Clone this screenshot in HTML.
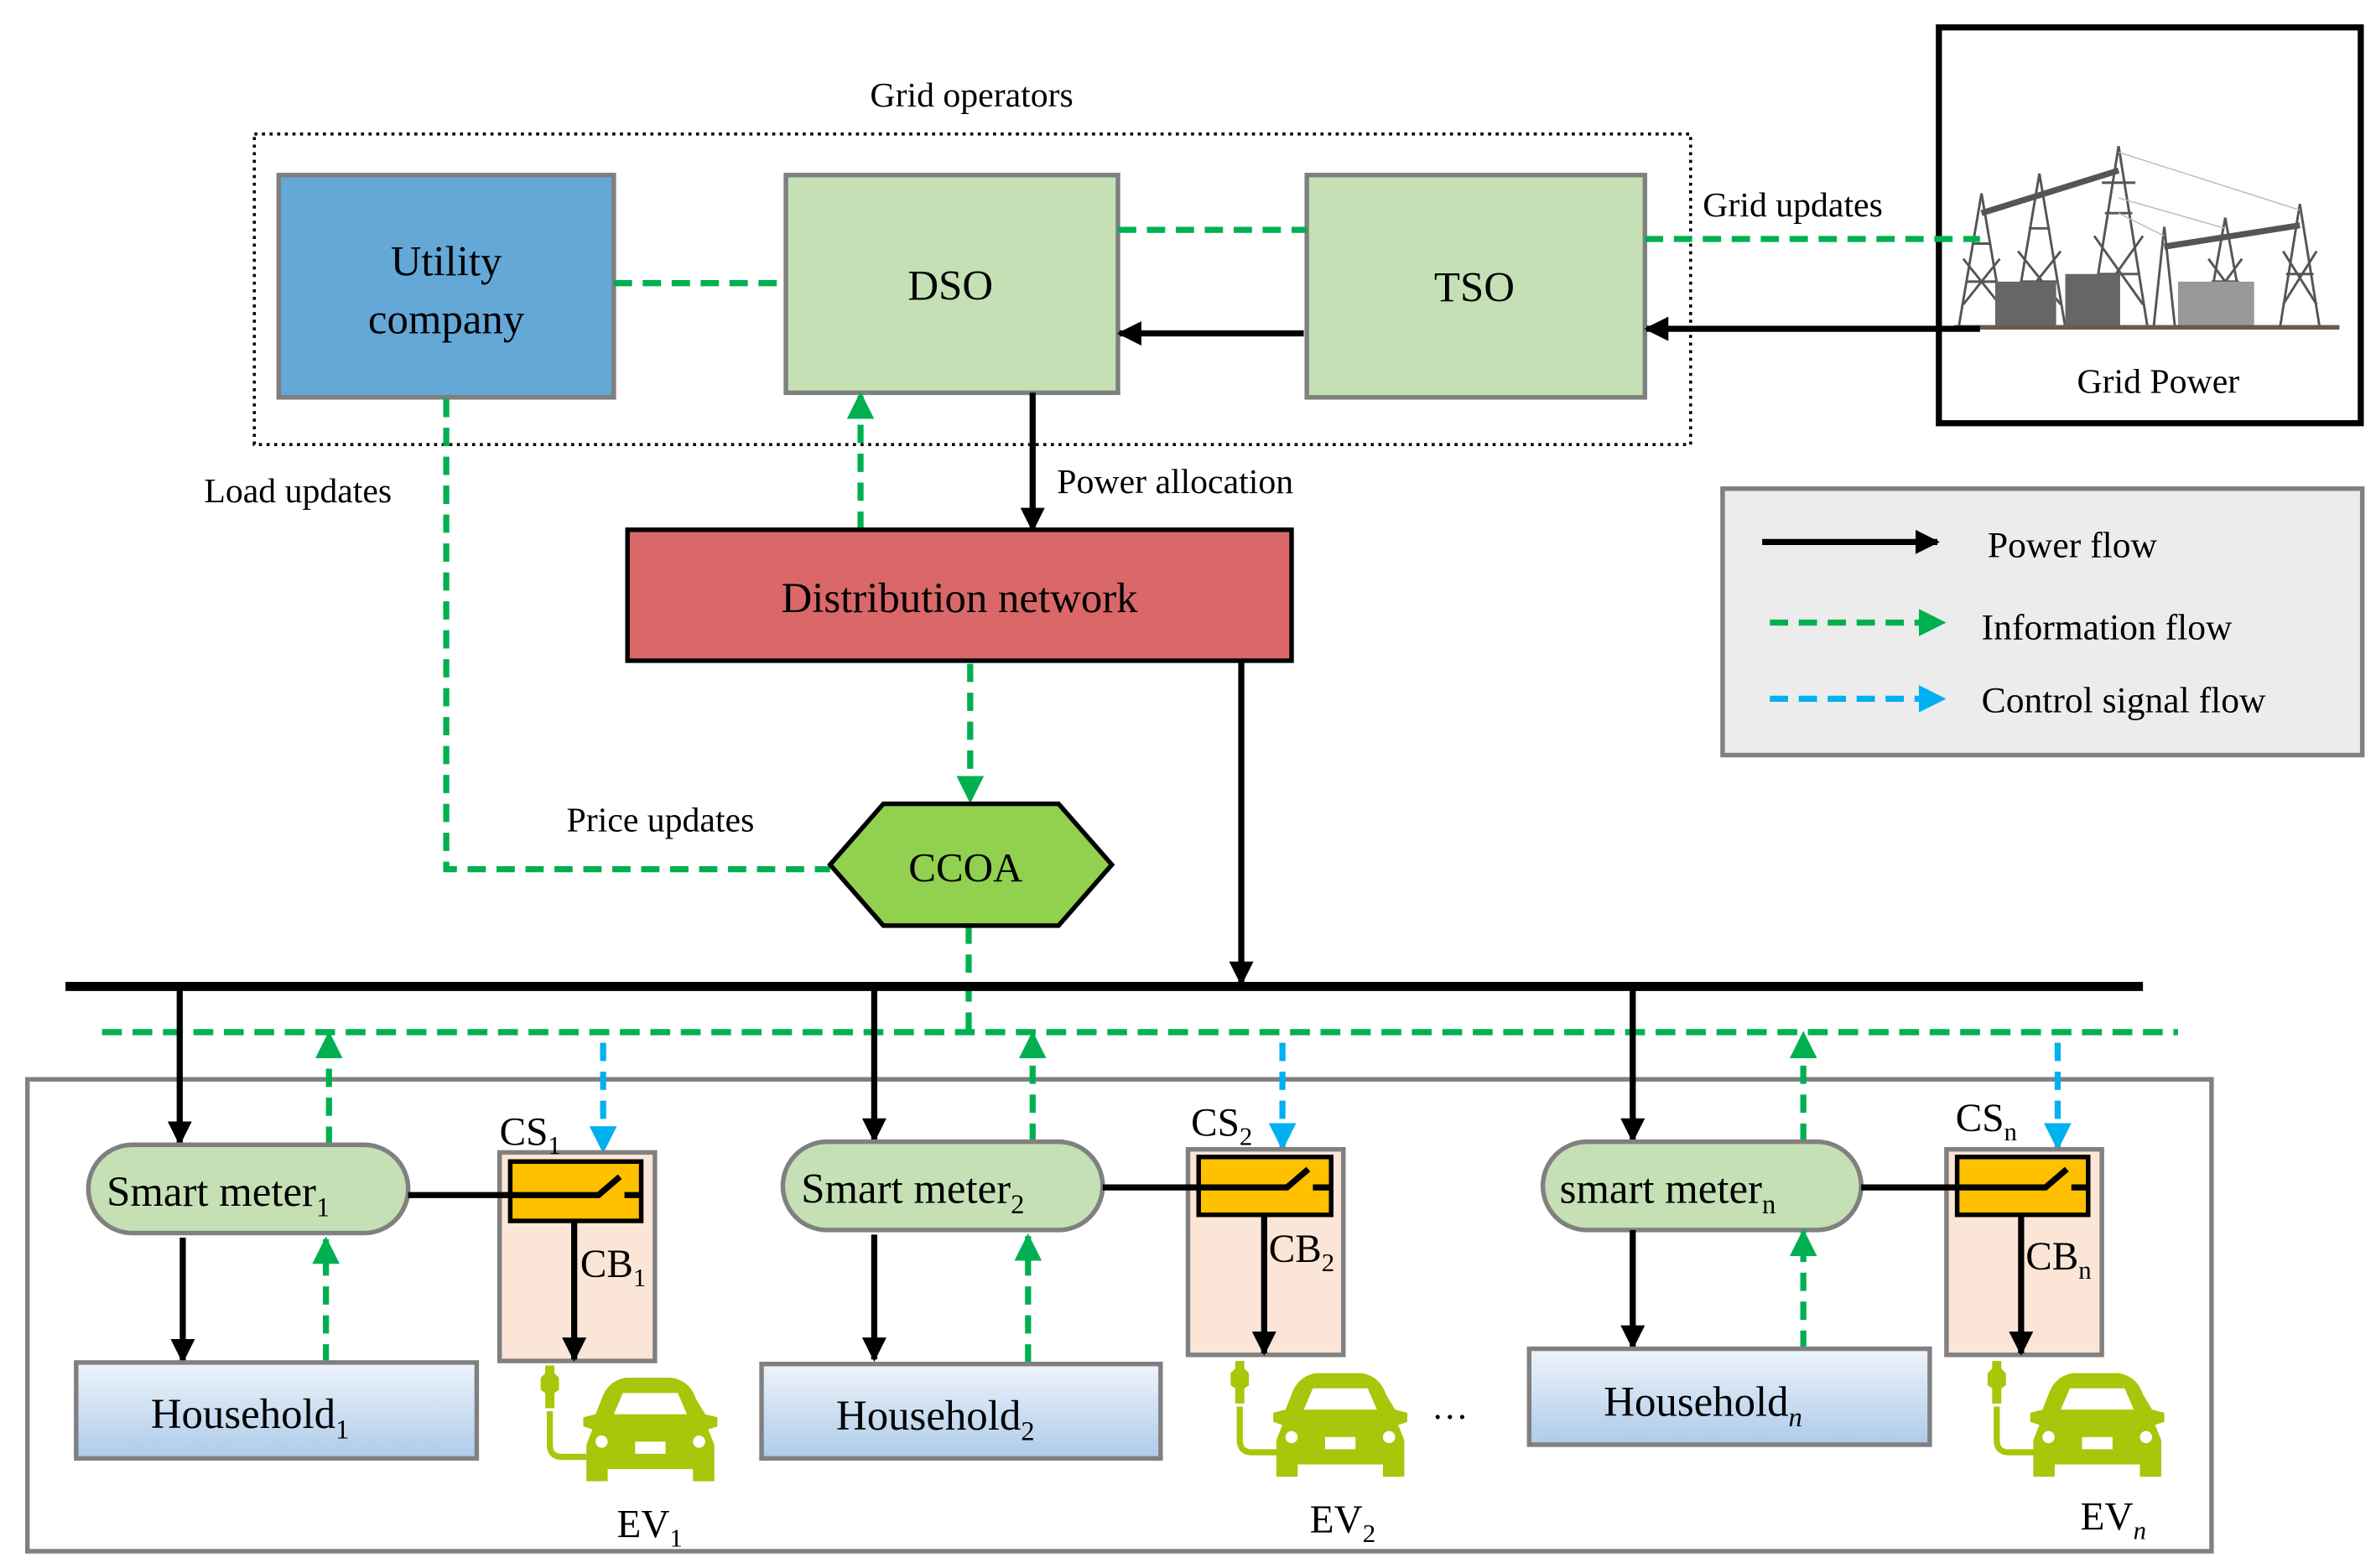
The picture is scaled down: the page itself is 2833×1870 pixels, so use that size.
<!DOCTYPE html>
<html><head><meta charset="utf-8"><style>
html,body{margin:0;padding:0;background:#fff;}
svg{display:block;}
text{font-family:"Liberation Serif",serif;fill:#000;}
</style></head><body>
<svg xmlns="http://www.w3.org/2000/svg" width="2833" height="1870" viewBox="0 0 1560 1030" preserveAspectRatio="none">
<defs>
<marker id="ab" viewBox="0 0 10 10" refX="9" refY="5" markerWidth="4" markerHeight="4" orient="auto" markerUnits="strokeWidth"><path d="M0,0L10,5L0,10z" fill="#000"/></marker>
<marker id="ag" viewBox="0 0 10 10" refX="9" refY="5" markerWidth="4.5" markerHeight="4.5" orient="auto" markerUnits="strokeWidth"><path d="M0,0L10,5L0,10z" fill="#00b050"/></marker>
<marker id="ac" viewBox="0 0 10 10" refX="9" refY="5" markerWidth="4.5" markerHeight="4.5" orient="auto" markerUnits="strokeWidth"><path d="M0,0L10,5L0,10z" fill="#00b0f0"/></marker>
<linearGradient id="hh" x1="0" y1="0" x2="0" y2="1"><stop offset="0" stop-color="#eef4fb"/><stop offset="1" stop-color="#adcbe9"/></linearGradient>
<g id="car">
<path d="M3,28 l0,-10 l-3,-2 l0,-8 l3,-3 l0,-5 l6,0 l0,5 l3,3 l0,8 l-3,2 l0,10 z" fill="#a8c60a"/>
<path d="M6,30 L6,52 Q6,60 14,60 L32,60" fill="none" stroke="#a8c60a" stroke-width="4"/>
<path d="M40,22 Q44,10 56,8 L86,8 Q98,10 102,22 L108,32 L116,34 L116,40 L110,42 L114,52 L114,76 L100,76 L100,68 L44,68 L44,76 L30,76 L30,52 L34,42 L28,40 L28,34 L36,32 Z" fill="#a8c60a"/>
<path d="M48,32 L54,18 L90,18 L96,32 Z" fill="#fff"/>
<circle cx="40" cy="50" r="4" fill="#fff"/><circle cx="104" cy="50" r="4" fill="#fff"/>
<rect x="62" y="50" width="20" height="8" fill="#fff"/>
</g>
</defs>

<!-- Grid operators -->
<text x="638" y="70" font-size="23" text-anchor="middle">Grid operators</text>
<rect x="167" y="88" width="943" height="204" fill="none" stroke="#000" stroke-width="2" stroke-dasharray="2,3"/>

<rect x="183" y="115" width="220" height="146" fill="#64a8d8" stroke="#7f7f7f" stroke-width="3"/>
<text x="293" y="181" font-size="28" text-anchor="middle">Utility</text>
<text x="293" y="219" font-size="28" text-anchor="middle">company</text>

<rect x="516" y="115" width="218" height="143" fill="#c5e0b4" stroke="#7f7f7f" stroke-width="3"/>
<text x="624" y="197" font-size="28" text-anchor="middle">DSO</text>
<rect x="858" y="115" width="222" height="146" fill="#c5e0b4" stroke="#7f7f7f" stroke-width="3"/>
<text x="968" y="198" font-size="28" text-anchor="middle">TSO</text>

<!-- Grid power -->
<rect x="1273" y="18" width="277" height="260" fill="#fff" stroke="#000" stroke-width="4"/>
<g stroke="#555" fill="none" stroke-width="1.6">
<path d="M1286,215 L1301,127 L1316,215 M1291,185 L1311,185 M1295,160 L1307,160 M1289,200 L1313,170 M1313,200 L1289,170"/>
<path d="M1322,215 L1339,114 L1356,215 M1327,185 L1351,185 M1332,150 L1346,150 M1325,200 L1353,165 M1353,200 L1325,165"/>
<path d="M1372,215 L1391,96 L1410,215 M1377,180 L1405,180 M1382,140 L1400,140 M1375,200 L1407,155 M1407,200 L1375,155 M1380,120 L1402,120"/>
<path d="M1414,215 L1421,149 L1428,215"/>
<path d="M1448,215 L1461,143 L1474,215 M1452,185 L1470,185 M1450,200 L1472,170 M1472,200 L1450,170"/>
<path d="M1497,215 L1510,134 L1523,215 M1501,180 L1519,180 M1499,200 L1521,165 M1521,200 L1499,165"/>
</g>
<g stroke="#555" stroke-width="4" fill="none">
<path d="M1301,140 L1391,112"/><path d="M1421,162 L1510,148"/>
</g>
<g stroke="#bbb" stroke-width="0.8" fill="none"><path d="M1391,100 L1510,138 M1391,130 L1461,150 M1391,140 L1421,155"/></g>
<g fill="#666"><rect x="1310" y="185" width="40" height="30"/><rect x="1356" y="180" width="36" height="35"/><rect x="1430" y="185" width="50" height="30" fill="#999"/></g>
<line x1="1283" y1="215" x2="1536" y2="215" stroke="#6b5a4a" stroke-width="3"/>
<text x="1417" y="258" font-size="23" text-anchor="middle">Grid Power</text>
<text x="1118" y="142" font-size="23">Grid  updates</text>

<!-- top info lines -->
<g stroke="#00b050" stroke-width="4" stroke-dasharray="12,7" fill="none">
<line x1="403" y1="186" x2="516" y2="186"/>
<line x1="734" y1="151" x2="858" y2="151"/>
<line x1="1080" y1="157" x2="1300" y2="157"/>
</g>
<!-- black power arrows -->
<g stroke="#000" stroke-width="4" fill="none" marker-end="url(#ab)">
<line x1="856" y1="219" x2="735" y2="219"/>
<line x1="1300" y1="216" x2="1081" y2="216"/>
<line x1="678" y1="258" x2="678" y2="348"/>
<line x1="815" y1="434" x2="815" y2="646"/>
</g>
<text x="694" y="324" font-size="23">Power allocation</text>
<line x1="565" y1="348" x2="565" y2="259" stroke="#00b050" stroke-width="4" stroke-dasharray="12,7" marker-end="url(#ag)"/>

<rect x="412" y="348" width="436" height="86" fill="#da6868" stroke="#000" stroke-width="3"/>
<text x="630" y="402" font-size="28" text-anchor="middle">Distribution network</text>

<text x="134" y="330" font-size="23">Load updates</text>
<path d="M293,262 L293,571 L545,571" stroke="#00b050" stroke-width="4" stroke-dasharray="12,7" fill="none"/>
<line x1="637" y1="436" x2="637" y2="526" stroke="#00b050" stroke-width="4" stroke-dasharray="12,7" marker-end="url(#ag)"/>
<line x1="636" y1="608" x2="636" y2="678" stroke="#00b050" stroke-width="4" stroke-dasharray="12,7"/>

<polygon points="545,568 580,528 695,528 730,568 695,608 580,608" fill="#92d050" stroke="#000" stroke-width="3"/>
<text x="634" y="579" font-size="27" text-anchor="middle">CCOA</text>
<text x="372" y="546" font-size="23">Price  updates</text>

<!-- bus -->
<line x1="43" y1="648" x2="1407" y2="648" stroke="#000" stroke-width="6"/>
<line x1="67" y1="678" x2="1430" y2="678" stroke="#00b050" stroke-width="4" stroke-dasharray="13,7"/>

<rect x="18" y="709" width="1434" height="310" fill="none" stroke="#808080" stroke-width="3"/>

<!-- legend -->
<rect x="1131" y="321" width="420" height="175" fill="#ececec" stroke="#808080" stroke-width="3"/>
<line x1="1157" y1="356" x2="1272" y2="356" stroke="#000" stroke-width="4" marker-end="url(#ab)"/>
<line x1="1162" y1="409" x2="1276" y2="409" stroke="#00b050" stroke-width="4" stroke-dasharray="12,7" marker-end="url(#ag)"/>
<line x1="1162" y1="459" x2="1276" y2="459" stroke="#00b0f0" stroke-width="4" stroke-dasharray="12,7" marker-end="url(#ac)"/>
<text x="1305" y="366" font-size="24">Power flow</text>
<text x="1301" y="420" font-size="24">Information flow</text>
<text x="1301" y="468" font-size="24">Control signal flow</text>

<!-- group 1 -->
<g>
<line x1="118" y1="648" x2="118" y2="751" stroke="#000" stroke-width="4" marker-end="url(#ab)"/>
<line x1="216" y1="752" x2="216" y2="679" stroke="#00b050" stroke-width="4" stroke-dasharray="12,7" marker-end="url(#ag)"/>
<line x1="396" y1="685" x2="396" y2="756" stroke="#00b0f0" stroke-width="4" stroke-dasharray="12,7" marker-end="url(#ac)"/>
<rect x="58" y="752" width="210" height="58" rx="29" fill="#c5e0b4" stroke="#808080" stroke-width="3"/>
<text x="70" y="792" font-size="28">Smart meter<tspan font-size="18" dy="7">1</tspan></text>
<rect x="328" y="757" width="102" height="137" fill="#fbe5d6" stroke="#808080" stroke-width="3"/>
<rect x="335" y="763" width="86" height="39" fill="#ffc000" stroke="#000" stroke-width="3"/>
<path d="M268,785 L393,785 L407,773 M410,785 L421,785" stroke="#000" stroke-width="4" fill="none"/>
<text x="328" y="752" font-size="26">CS<tspan font-size="17" dy="6">1</tspan></text>
<line x1="377" y1="802" x2="377" y2="893" stroke="#000" stroke-width="4" marker-end="url(#ab)"/>
<text x="381" y="839" font-size="26">CB<tspan font-size="17" dy="6">1</tspan></text>
<line x1="120" y1="813" x2="120" y2="894" stroke="#000" stroke-width="4" marker-end="url(#ab)"/>
<line x1="214" y1="895" x2="214" y2="814" stroke="#00b050" stroke-width="4" stroke-dasharray="12,7" marker-end="url(#ag)"/>
<rect x="50" y="895" width="263" height="63" fill="url(#hh)" stroke="#808080" stroke-width="3"/>
<text x="99" y="938" font-size="28">Household<tspan font-size="18" dy="7">1</tspan></text>
<use href="#car" x="355" y="897"/>
<text x="405" y="1010" font-size="26">EV<tspan font-size="17" dy="6">1</tspan></text>
</g>

<!-- group 2 -->
<g>
<line x1="574" y1="648" x2="574" y2="749" stroke="#000" stroke-width="4" marker-end="url(#ab)"/>
<line x1="678" y1="750" x2="678" y2="679" stroke="#00b050" stroke-width="4" stroke-dasharray="12,7" marker-end="url(#ag)"/>
<line x1="842" y1="685" x2="842" y2="754" stroke="#00b0f0" stroke-width="4" stroke-dasharray="12,7" marker-end="url(#ac)"/>
<rect x="514" y="750" width="210" height="58" rx="29" fill="#c5e0b4" stroke="#808080" stroke-width="3"/>
<text x="526" y="790" font-size="28">Smart meter<tspan font-size="18" dy="7">2</tspan></text>
<rect x="780" y="755" width="102" height="135" fill="#fbe5d6" stroke="#808080" stroke-width="3"/>
<rect x="787" y="760" width="87" height="38" fill="#ffc000" stroke="#000" stroke-width="3"/>
<path d="M724,780 L845,780 L859,768 M862,780 L874,780" stroke="#000" stroke-width="4" fill="none"/>
<text x="782" y="746" font-size="26">CS<tspan font-size="17" dy="6">2</tspan></text>
<line x1="830" y1="798" x2="830" y2="889" stroke="#000" stroke-width="4" marker-end="url(#ab)"/>
<text x="833" y="829" font-size="26">CB<tspan font-size="17" dy="6">2</tspan></text>
<line x1="574" y1="811" x2="574" y2="893" stroke="#000" stroke-width="4" marker-end="url(#ab)"/>
<line x1="675" y1="895" x2="675" y2="812" stroke="#00b050" stroke-width="4" stroke-dasharray="12,7" marker-end="url(#ag)"/>
<rect x="500" y="896" width="262" height="62" fill="url(#hh)" stroke="#808080" stroke-width="3"/>
<text x="549" y="939" font-size="28">Household<tspan font-size="18" dy="7">2</tspan></text>
<use href="#car" x="808" y="894"/>
<text x="860" y="1007" font-size="26">EV<tspan font-size="17" dy="6">2</tspan></text>
<text x="940" y="932" font-size="24">…</text>
</g>

<!-- group n -->
<g>
<line x1="1072" y1="648" x2="1072" y2="749" stroke="#000" stroke-width="4" marker-end="url(#ab)"/>
<line x1="1184" y1="750" x2="1184" y2="679" stroke="#00b050" stroke-width="4" stroke-dasharray="12,7" marker-end="url(#ag)"/>
<line x1="1351" y1="685" x2="1351" y2="754" stroke="#00b0f0" stroke-width="4" stroke-dasharray="12,7" marker-end="url(#ac)"/>
<rect x="1013" y="750" width="209" height="58" rx="29" fill="#c5e0b4" stroke="#808080" stroke-width="3"/>
<text x="1024" y="790" font-size="28">smart meter<tspan font-size="18" dy="7">n</tspan></text>
<rect x="1278" y="755" width="102" height="135" fill="#fbe5d6" stroke="#808080" stroke-width="3"/>
<rect x="1285" y="760" width="86" height="38" fill="#ffc000" stroke="#000" stroke-width="3"/>
<path d="M1222,780 L1343,780 L1357,768 M1360,780 L1371,780" stroke="#000" stroke-width="4" fill="none"/>
<text x="1284" y="743" font-size="26">CS<tspan font-size="17" dy="6">n</tspan></text>
<line x1="1327" y1="798" x2="1327" y2="889" stroke="#000" stroke-width="4" marker-end="url(#ab)"/>
<text x="1330" y="834" font-size="26">CB<tspan font-size="17" dy="6">n</tspan></text>
<line x1="1072" y1="808" x2="1072" y2="885" stroke="#000" stroke-width="4" marker-end="url(#ab)"/>
<line x1="1184" y1="886" x2="1184" y2="809" stroke="#00b050" stroke-width="4" stroke-dasharray="12,7" marker-end="url(#ag)"/>
<rect x="1004" y="886" width="263" height="63" fill="url(#hh)" stroke="#808080" stroke-width="3"/>
<text x="1053" y="930" font-size="28">Household<tspan font-size="18" dy="7" font-style="italic">n</tspan></text>
<use href="#car" x="1305" y="894"/>
<text x="1366" y="1005" font-size="26">EV<tspan font-size="17" dy="6" font-style="italic">n</tspan></text>
</g>
</svg>
</body></html>
